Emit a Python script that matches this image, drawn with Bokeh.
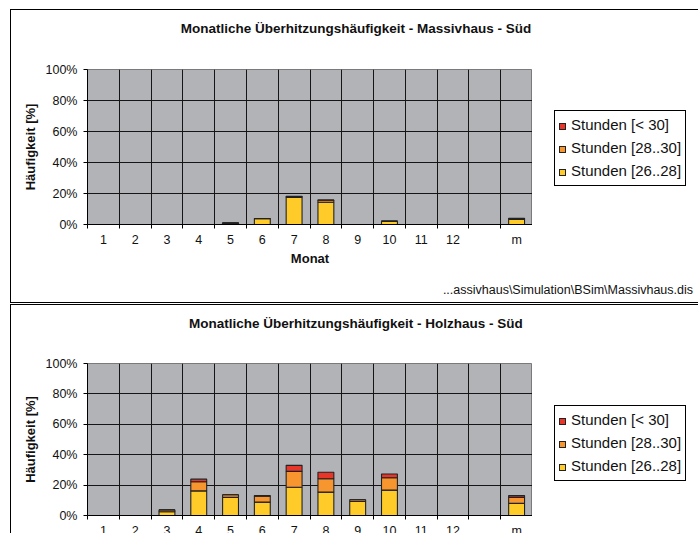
from bokeh.plotting import figure
from bokeh.layouts import column, row
from bokeh.models import Range1d, FixedTicker, ColumnDataSource, Div
from bokeh.embed import file_html
from bokeh.resources import INLINE

# ---------------- data ----------------
months = ["1", "2", "3", "4", "5", "6", "7", "8", "9", "10", "11", "12", "", "m"]
y_ticks = [0, 20, 40, 60, 80, 100]
series_labels = ["Stunden [26..28]", "Stunden [28..30]", "Stunden [< 30]"]

# Massivhaus - Süd (percent of hours)
massiv_26_28 = [0, 0, 0, 0, 0.7, 3.7, 17.5, 14.4, 0, 2.0, 0, 0, 0, 3.3]
massiv_28_30 = [0, 0, 0, 0, 0.4, 0.2, 0.5, 1.3, 0, 0.3, 0, 0, 0, 0.5]
massiv_gt_30 = [0, 0, 0, 0, 0.0, 0.0, 0.2, 0.1, 0, 0.0, 0, 0, 0, 0.2]

# Holzhaus - Süd
holz_26_28 = [0, 0, 2.5, 16.2, 11.9, 8.8, 18.6, 15.4, 9.2, 16.7, 0, 0, 0, 8.0]
holz_28_30 = [0, 0, 1.2, 6.0, 1.8, 3.9, 10.4, 8.8, 1.2, 8.1, 0, 0, 0, 3.9]
holz_gt_30 = [0, 0, 0.0, 1.7, 0.0, 0.4, 4.0, 4.3, 0.0, 2.5, 0, 0, 0, 1.2]

title_top = "Monatliche Überhitzungshäufigkeit - Massivhaus - Süd"
title_bottom = "Monatliche Überhitzungshäufigkeit - Holzhaus - Süd"
foot_top = r"...assivhaus\Simulation\BSim\Massivhaus.dis"
foot_bottom = r"...\Massivhaus\Simulation\BSim\Holzhaus.dis"

# ---------------- style ----------------
FONT = "Liberation Sans"
BG = "#B1B3B7"
COLORS = ["#FFCB29", "#F7952F", "#E8362B"]
PANEL_W = 680
FIG_W = 521
LEFT = 76


def esc(s):
    return s.replace("&", "&amp;").replace("<", "&lt;").replace(">", "&gt;")


def legend_div(height, top):
    rows = []
    for k, i in enumerate((2, 1, 0)):
        mt = "0" if k == 0 else "5px"
        rows.append(
            f'<div style="height:18px;line-height:18px;margin-top:{mt};'
            f'white-space:nowrap;">'
            f'<span style="display:inline-block;width:7px;height:7px;'
            f'border:1px solid #222;background:{COLORS[i]};margin-left:4px;'
            f'margin-right:5px;vertical-align:middle;"></span>'
            f'{esc(series_labels[i])}</div>')
    html = (f'<div style="padding-top:{top}px;padding-left:17px;">'
            f'<div style="width:132px;border:1px solid #000;background:#fff;'
            f'padding:5px 0 5px 0;font-family:\'{FONT}\';font-size:15px;'
            f'color:#111;">' + "".join(rows) + '</div></div>')
    return Div(text=html, width=PANEL_W - FIG_W, height=height)


def make_panel(title, s1, s2, s3, foot, title_h, fig_top, frame_h, fig_bottom,
               foot_h, legend_top):
    n = len(months)
    centers = [i + 0.5 for i in range(n)]
    src = ColumnDataSource(dict(x=centers, a=s1, b=s2, c=s3))
    fig_h = fig_top + frame_h + fig_bottom

    p = figure(width=FIG_W, height=fig_h, output_backend="svg",
               toolbar_location=None,
               x_range=Range1d(0, n), y_range=Range1d(0, 100),
               min_border_left=LEFT, min_border_right=0,
               min_border_top=fig_top, min_border_bottom=fig_bottom)
    p.background_fill_color = BG
    p.border_fill_color = "white"
    p.outline_line_color = "#7a7a7a"

    p.vbar_stack(["a", "b", "c"], x="x", width=0.5, source=src,
                 fill_color=COLORS, line_color="#222222", line_width=1.1)

    # x axis: labels centred in categories, tick marks at boundaries
    xa = p.xaxis[0]
    xa.ticker = FixedTicker(ticks=centers, minor_ticks=list(range(n + 1)))
    xa.major_label_overrides = {c: m for c, m in zip(centers, months)}
    xa.major_tick_out = 0
    xa.major_tick_in = 0
    xa.minor_tick_out = 4
    xa.minor_tick_in = 0
    xa.minor_tick_line_color = "#000000"
    xa.axis_line_color = "#000000"
    xa.major_label_standoff = 4
    xa.major_label_text_font = FONT
    xa.major_label_text_font_size = "12.5px"
    xa.major_label_text_color = "#111111"
    xa.axis_label = "Monat"
    xa.axis_label_text_font = FONT
    xa.axis_label_text_font_size = "13px"
    xa.axis_label_text_font_style = "bold"
    xa.axis_label_text_color = "#111111"
    xa.axis_label_standoff = 1

    ya = p.yaxis[0]
    ya.ticker = FixedTicker(ticks=y_ticks, minor_ticks=[])
    ya.major_label_overrides = {t: f"{t}%" for t in y_ticks}
    ya.major_tick_out = 4
    ya.major_tick_in = 0
    ya.major_tick_line_color = "#000000"
    ya.axis_line_color = "#000000"
    ya.major_label_standoff = 6
    ya.major_label_text_font = FONT
    ya.major_label_text_font_size = "12.5px"
    ya.major_label_text_color = "#111111"
    ya.axis_label = "Häufigkeit [%]"
    ya.axis_label_text_font = FONT
    ya.axis_label_text_font_size = "13px"
    ya.axis_label_text_font_style = "bold"
    ya.axis_label_text_color = "#111111"
    ya.axis_label_standoff = 5

    p.xgrid.ticker = FixedTicker(ticks=list(range(n + 1)), minor_ticks=[])
    p.ygrid.ticker = FixedTicker(ticks=y_ticks, minor_ticks=[])
    for g in (p.xgrid[0], p.ygrid[0]):
        g.grid_line_color = "#151515"
        g.grid_line_width = 1

    title_div = Div(text=esc(title), width=PANEL_W, height=title_h,
                    styles={"font-family": FONT, "font-weight": "bold",
                            "font-size": "13.5px", "text-align": "center",
                            "line-height": "28px", "color": "#111111"})
    foot_div = Div(text=f'<div style="padding-right:3px;">{esc(foot)}</div>',
                   width=PANEL_W, height=foot_h,
                   styles={"font-family": FONT, "font-size": "12.5px",
                           "text-align": "right",
                           "line-height": f"{foot_h}px",
                           "color": "#111111", "white-space": "nowrap"})

    body = row(p, legend_div(fig_h, legend_top), spacing=0)
    return column(title_div, body, foot_div, spacing=0,
                  styles={"outline": "1px solid #000",
                          "background": "white"})


panel1 = make_panel(title_top, massiv_26_28, massiv_28_30, massiv_gt_30,
                    foot_top, title_h=40, fig_top=9, frame_h=159,
                    fig_bottom=40, foot_h=14, legend_top=45)
panel2 = make_panel(title_bottom, holz_26_28, holz_28_30, holz_gt_30,
                    foot_bottom, title_h=38, fig_top=10, frame_h=158,
                    fig_bottom=38, foot_h=12, legend_top=47)

layout = column(panel1, panel2, spacing=3,
                styles={"transform": "translate(11px, 10px)"})
open("out.html", "w").write(file_html(layout, INLINE))
